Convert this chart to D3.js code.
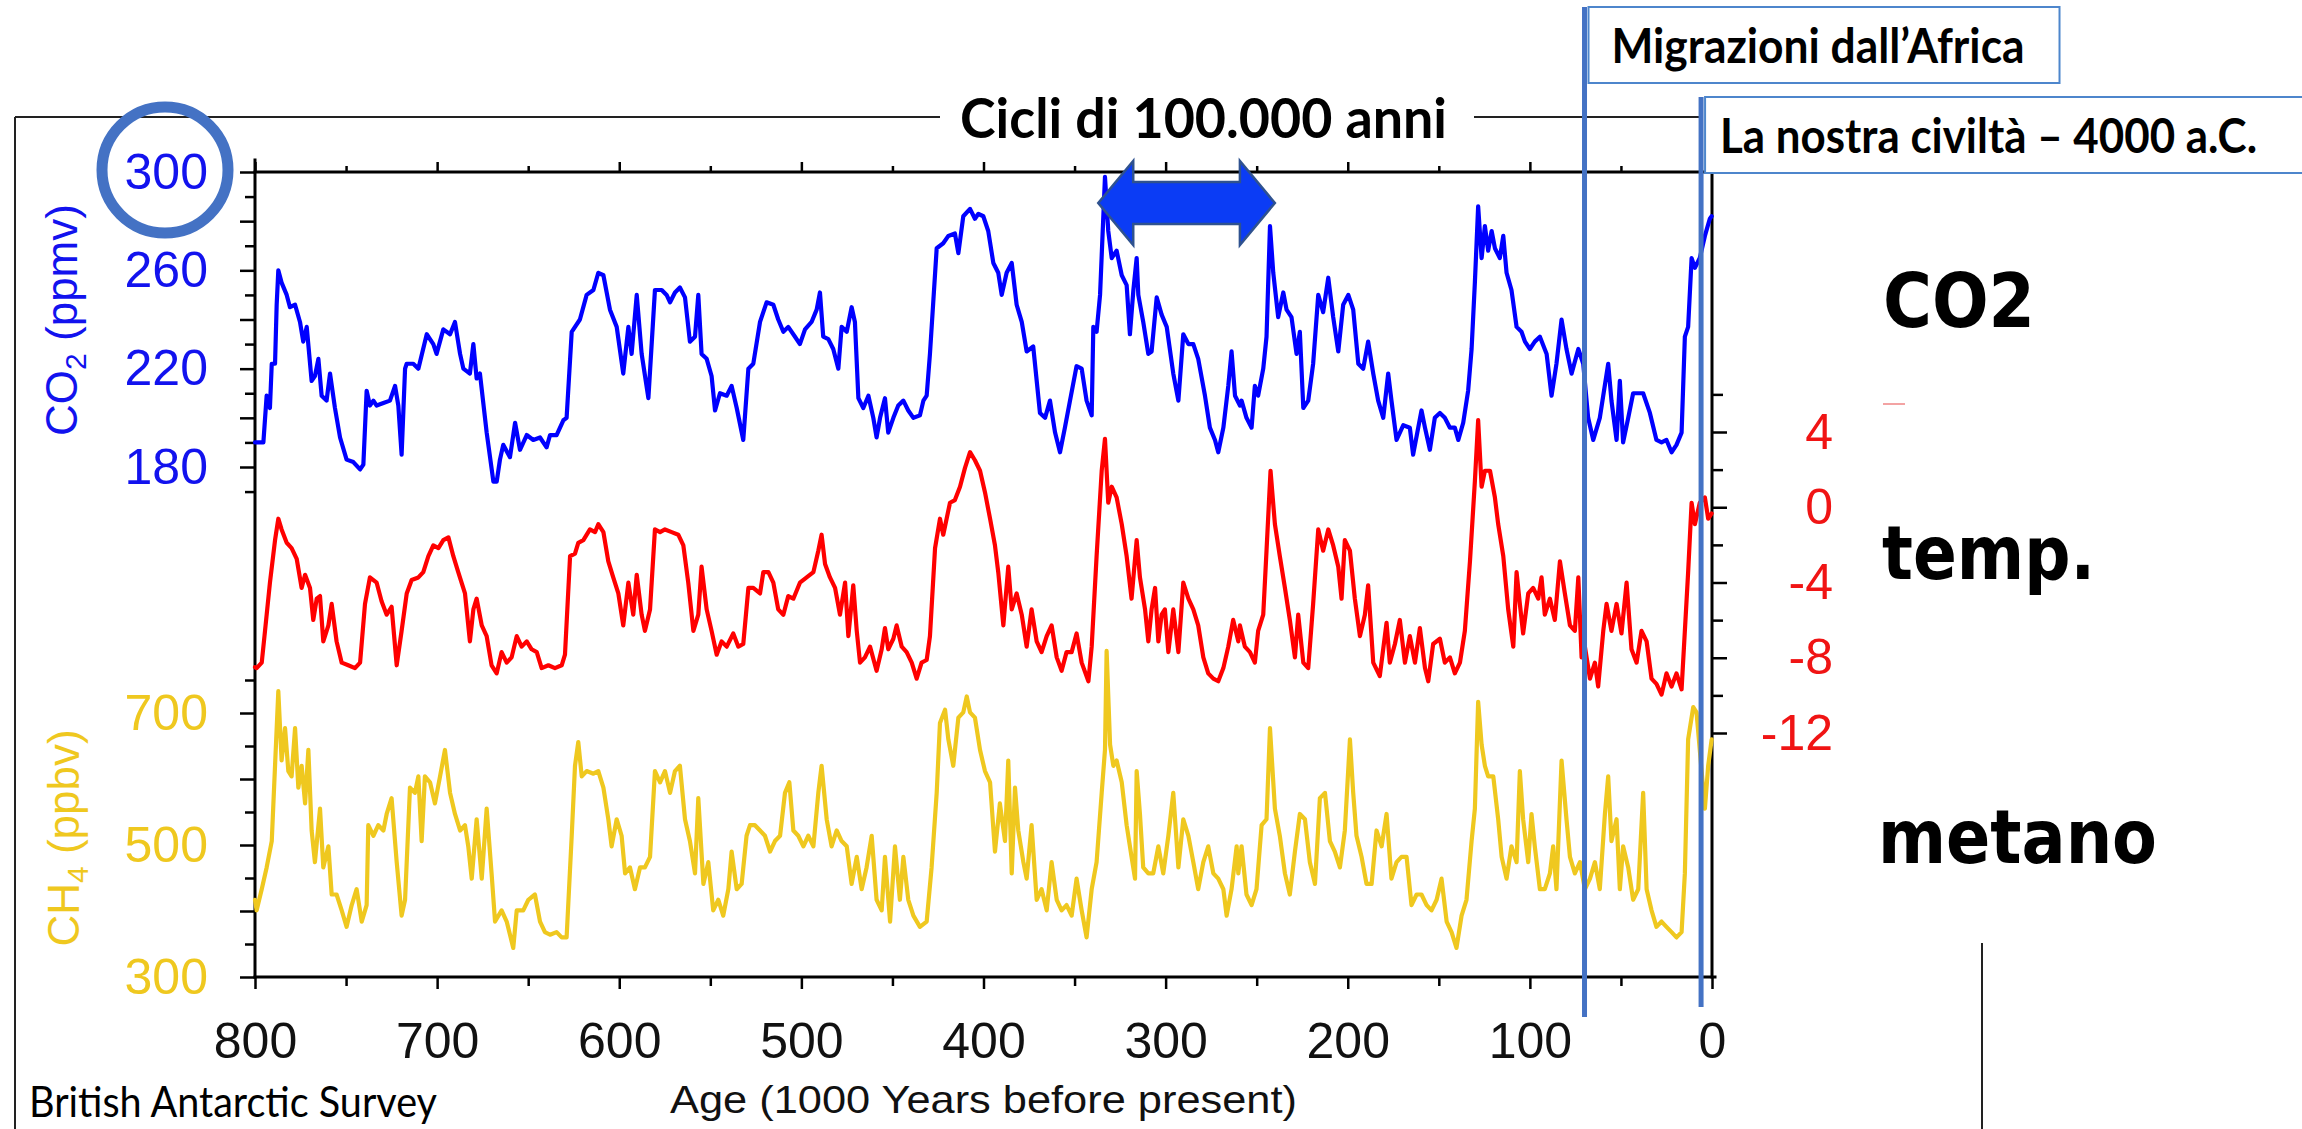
<!DOCTYPE html>
<html>
<head>
<meta charset="utf-8">
<script src="https://cdn.jsdelivr.net/npm/d3@7"></script>
<style>
  html, body { margin: 0; padding: 0; background: #fff; }
  svg { display: block; }
</style>
</head>
<body>
<svg id="chart" width="2302" height="1129"></svg>
<script>
// ---- Antarctic ice-core records, age in thousands of years before present ----
const co2Series = [
  [800,190],[799.1,190],[795.4,190],[793.6,209],[791.8,204],[790.8,222],[789.0,222],[788.1,246],[787.2,260],[785.4,255],
  [782.6,250],[780.8,245],[778.0,246],[775.3,239],[773.5,231],[771.6,237],[768.9,215],[767.1,217],[765.2,224],[763.4,209],
  [760.7,207],[758.8,218],[756.1,204],[753.3,192],[749.7,183],[746.0,182],[742.3,179],[740.5,181],[738.7,211],[736.9,205],
  [735.0,207],[733.2,205],[729.5,206],[725.9,207],[723.1,213],[721.3,205],[719.5,185],[717.6,220],[716.7,222],[713.1,222],
  [710.3,220],[705.7,234],[702.1,230],[700.3,226],[696.6,236],[692.9,234],[690.2,239],[687.4,226],[685.6,220],[682.0,218],
  [680.1,230],[678.3,216],[676.5,218],[672.8,194],[669.1,174],[667.3,174],[665.5,183],[663.7,189],[660.0,184],[657.2,198],
  [654.5,187],[650.8,193],[647.2,191],[643.5,192],[639.9,188],[638.0,193],[634.4,193],[630.7,199],[628.9,200],[626.1,235],
  [621.6,240],[617.9,250],[614.2,252],[611.5,259],[608.7,258],[605.1,244],[601.4,237],[597.8,218],[595.0,237],[593.2,226],
  [590.4,250],[587.7,226],[584.0,208],[580.4,252],[576.7,252],[574.0,250],[572.1,247],[569.4,251],[566.7,253],[563.9,249],
  [561.2,231],[558.4,233],[556.6,250],[554.8,226],[552.0,224],[549.3,217],[547.4,203],[544.7,210],[541.0,209],[538.3,213],
  [535.5,204],[531.9,191],[529.1,220],[526.4,222],[522.7,239],[519.1,247],[515.4,246],[512.7,240],[509.9,235],[507.2,237],
  [503.5,233],[500.8,230],[498.0,236],[494.4,239],[491.6,244],[489.8,251],[488.0,233],[485.2,232],[482.5,228],[479.7,220],
  [477.9,237],[475.1,235],[472.4,245],[470.6,239],[468.7,208],[466.0,204],[463.2,209],[460.5,200],[458.7,192],[456.8,200],
  [454.1,208],[452.3,194],[449.5,200],[446.8,205],[444.0,207],[441.3,203],[438.5,200],[434.9,201],[433.0,207],[431.2,209],
  [429.4,226],[425.7,269],[422.1,271],[419.3,274],[415.7,275],[413.8,267],[411.1,282],[407.4,285],[404.7,281],[402.8,283],
  [400.1,282],[397.4,276],[394.6,263],[391.9,259],[390.0,250],[387.3,259],[384.5,263],[381.8,246],[379.0,239],[376.3,227],
  [372.7,229],[369.0,202],[366.2,200],[363.5,207],[360.7,194],[358.0,186],[355.3,196],[352.5,207],[348.9,221],[346.1,220],
  [343.4,207],[340.6,201],[339.7,237],[337.9,235],[336.0,250],[333.3,298],[331.5,276],[329.6,265],[326.9,268],[324.1,258],
  [321.4,254],[319.6,234],[317.7,252],[315.9,265],[315.0,250],[312.3,239],[309.5,226],[307.7,227],[304.9,249],[302.2,242],
  [299.4,237],[295.8,218],[293.0,207],[290.3,234],[287.5,230],[284.8,230],[282.1,224],[278.4,209],[275.7,196],[272.9,191],
  [271.1,186],[268.3,196],[265.6,213],[263.8,227],[261.9,209],[259.2,205],[258.3,207],[255.6,200],[252.8,196],[251.0,213],
  [249.2,209],[246.4,220],[244.6,233],[242.7,278],[240.9,259],[238.2,241],[235.4,251],[233.6,244],[230.9,241],[228.1,226],
  [226.3,235],[224.4,204],[221.7,207],[219.0,222],[216.2,250],[213.5,243],[210.7,257],[208.0,241],[205.2,227],[202.5,246],
  [199.7,250],[197.0,244],[194.2,222],[191.5,220],[188.8,231],[186.0,218],[183.3,207],[180.5,200],[177.8,218],[176.0,207],
  [173.2,191],[169.5,197],[165.9,196],[164.1,185],[161.3,196],[159.5,203],[157.6,196],[154.9,187],[152.2,200],[149.4,202],
  [146.7,200],[143.9,196],[141.2,196],[139.3,191],[136.6,198],[133.9,211],[132.0,228],[130.2,255],[128.4,286],[126.5,265],
  [124.7,278],[122.9,268],[121.0,276],[119.2,269],[116.5,265],[114.6,274],[112.8,259],[110.1,252],[107.3,237],[104.6,235],
  [102.7,231],[100.0,228],[97.3,231],[94.5,233],[90.8,226],[88.1,209],[85.4,222],[82.6,240],[79.9,228],[77.1,218],
  [73.4,228],[70.7,222],[68.0,200],[65.2,191],[61.6,200],[57.0,222],[55.2,207],[52.4,191],[50.6,215],[48.8,190],
  [46.0,200],[43.3,210],[37.8,210],[34.1,202],[30.5,191],[27.7,190],[25.0,191],[22.2,186],[19.5,189],[16.7,194],
  [14.9,233],[13.1,237],[11.2,265],[9.4,261],[6.7,265],[3.9,274],[1.2,281],[0.2,282]
];

const temperatureSeries = [
  [800,-8.5],[799.1,-8.55],[796.3,-8.26],[794.5,-6.57],[791.8,-4.01],[789.0,-1.75],[787.2,-0.61],[785.4,-1.18],[782.6,-1.89],[779.9,-2.17],
  [777.1,-2.74],[774.4,-4.29],[772.5,-3.59],[769.8,-4.29],[768.0,-5.99],[766.1,-4.86],[764.3,-4.72],[762.5,-7.13],[759.7,-6.28],[757.9,-5.14],
  [755.2,-7.13],[752.4,-8.26],[748.8,-8.40],[745.1,-8.55],[742.3,-8.26],[739.6,-5.14],[736.9,-3.73],[733.2,-4.01],[730.5,-5.0],[727.7,-5.71],
  [725.0,-5.29],[722.2,-8.40],[719.5,-6.57],[716.7,-4.58],[714.0,-3.87],[710.3,-3.73],[707.6,-3.45],[704.8,-2.60],[702.1,-2.03],[699.3,-2.17],
  [696.6,-1.75],[693.8,-1.60],[691.1,-2.60],[688.4,-3.45],[684.7,-4.58],[682.0,-7.13],[680.1,-5.43],[678.3,-4.86],[675.5,-6.28],[672.8,-6.85],
  [670.1,-8.40],[667.3,-8.83],[664.6,-7.70],[661.8,-8.26],[659.1,-7.98],[656.3,-6.85],[653.6,-7.41],[650.8,-7.13],[648.1,-7.55],[645.3,-7.70],
  [642.6,-8.55],[638.9,-8.40],[635.3,-8.55],[631.6,-8.40],[629.8,-7.84],[627.0,-2.60],[624.3,-2.46],[622.5,-1.89],[619.7,-1.75],[616.1,-1.18],
  [613.3,-1.32],[611.5,-0.90],[608.7,-1.32],[606.0,-2.88],[603.3,-3.73],[600.5,-4.58],[597.8,-6.28],[595.0,-4.01],[592.3,-5.71],[590.4,-3.59],
  [587.7,-5.71],[585.9,-6.57],[583.1,-5.43],[580.4,-1.18],[577.6,-1.32],[574.9,-1.18],[571.2,-1.32],[567.6,-1.46],[564.8,-2.03],[562.1,-4.01],
  [559.3,-6.57],[556.6,-5.71],[554.8,-3.16],[552.0,-5.43],[549.3,-6.57],[546.5,-7.84],[543.8,-7.13],[541.0,-7.41],[537.4,-6.71],[534.6,-7.41],
  [531.9,-7.27],[529.1,-4.29],[526.4,-4.29],[522.7,-4.58],[520.9,-3.45],[518.1,-3.45],[515.4,-4.01],[512.7,-5.43],[509.9,-5.71],[507.2,-4.72],
  [504.4,-4.86],[500.8,-4.01],[497.1,-3.73],[493.4,-3.45],[490.7,-2.31],[488.9,-1.46],[487.0,-3.02],[484.3,-3.73],[481.5,-4.29],[478.8,-5.71],
  [476.0,-4.01],[474.2,-6.85],[471.5,-4.15],[469.6,-6.57],[467.8,-8.26],[465.1,-7.98],[462.3,-7.41],[458.7,-8.69],[455.9,-7.55],[454.1,-6.42],
  [452.3,-7.55],[449.5,-6.99],[447.7,-6.28],[444.9,-7.41],[442.2,-7.70],[439.4,-8.26],[436.7,-9.11],[434.0,-8.26],[431.2,-8.12],[429.4,-6.85],
  [426.6,-2.17],[423.9,-0.61],[422.1,-1.46],[418.4,0.24],[415.7,0.38],[412.9,1.09],[410.2,2.08],[407.4,2.93],[404.7,2.50],[401.9,1.94],
  [399.2,0.80],[396.4,-0.61],[393.7,-2.03],[391.9,-3.45],[389.1,-6.28],[386.4,-3.16],[384.5,-5.43],[381.8,-4.58],[379.0,-5.71],[376.3,-7.41],
  [373.6,-5.43],[370.8,-7.13],[368.1,-7.70],[365.3,-6.85],[362.6,-6.28],[359.8,-7.98],[357.1,-8.69],[354.4,-7.70],[351.6,-7.70],[348.9,-6.71],
  [346.1,-8.26],[342.4,-9.25],[340.6,-7.41],[337.9,-2.60],[335.1,1.94],[333.3,3.64],[331.5,0.24],[329.6,1.09],[326.9,0.52],[324.1,-0.90],
  [321.4,-2.60],[318.7,-4.86],[315.9,-1.75],[314.1,-3.73],[311.3,-5.43],[309.5,-7.13],[307.7,-5.43],[305.8,-4.29],[304.0,-7.13],[302.2,-5.71],
  [300.4,-5.43],[298.5,-7.70],[295.8,-5.43],[293.0,-7.70],[290.3,-4.01],[287.5,-4.86],[284.8,-5.43],[282.1,-6.28],[279.3,-7.98],[276.6,-8.83],
  [273.8,-9.11],[271.1,-9.25],[268.3,-8.55],[265.6,-7.41],[262.9,-5.99],[260.1,-7.13],[259.2,-6.28],[256.5,-7.41],[253.7,-7.70],[251.0,-8.26],
  [249.2,-6.57],[246.4,-5.71],[244.6,-2.31],[242.4,1.94],[240.0,-0.90],[237.3,-2.60],[234.5,-4.29],[231.8,-5.99],[229.0,-7.98],[227.2,-5.71],
  [224.4,-8.26],[221.7,-8.55],[219.0,-5.14],[216.2,-1.18],[213.5,-2.31],[210.7,-1.18],[208.0,-2.03],[205.2,-3.16],[203.4,-4.86],[201.6,-1.75],
  [198.8,-2.31],[196.1,-4.86],[193.3,-6.85],[190.6,-5.71],[188.8,-4.15],[186.0,-8.26],[182.4,-8.97],[178.7,-6.14],[176.9,-8.26],[174.1,-7.27],
  [171.4,-5.99],[168.6,-8.26],[165.9,-6.85],[163.1,-8.26],[160.4,-6.42],[157.6,-8.55],[155.8,-9.25],[153.1,-7.27],[149.4,-6.99],[146.7,-8.26],
  [143.9,-7.98],[141.2,-8.83],[138.4,-8.26],[135.7,-6.57],[132.9,-2.88],[130.2,1.37],[128.4,4.63],[126.5,1.09],[124.7,1.94],[121.9,1.94],
  [119.2,0.52],[117.4,-0.90],[114.6,-2.60],[111.9,-5.43],[109.1,-7.41],[107.3,-3.45],[105.5,-5.14],[103.7,-6.71],[100.9,-4.58],[98.2,-4.29],
  [95.4,-4.86],[93.6,-3.73],[91.8,-5.71],[89.0,-4.86],[86.3,-5.99],[83.5,-2.88],[80.8,-4.58],[78.0,-6.28],[75.3,-6.57],[73.4,-3.73],
  [71.6,-7.98],[69.8,-7.41],[67.0,-9.11],[64.3,-8.26],[62.5,-9.53],[59.7,-6.57],[57.9,-5.14],[55.2,-6.57],[52.4,-5.14],[49.7,-6.71],
  [46.9,-4.01],[44.2,-7.55],[41.4,-8.26],[38.7,-6.57],[35.9,-7.13],[33.2,-9.11],[30.5,-9.39],[27.7,-9.96],[25.0,-8.83],[22.2,-9.53],
  [19.5,-8.83],[16.7,-9.68],[14.9,-6.57],[13.1,-3.45],[11.2,0.24],[9.4,-0.90],[6.7,0.24],[3.9,0.52],[2.1,-0.61],[0.2,-0.33]
];

const methaneSeries = [
  [800,417],[799.1,401],[796.3,433],[793.6,466],[790.8,506],[789.0,620],[787.2,733],[785.4,628],[783.5,677],[781.7,612],
  [779.9,604],[778.0,677],[776.2,587],[774.4,620],[772.5,563],[770.7,644],[768.9,522],[767.1,474],[764.3,555],[762.5,466],
  [759.7,498],[757.9,425],[755.2,425],[752.4,401],[749.7,376],[746.9,409],[744.2,433],[741.4,384],[738.7,409],[737.8,530],
  [735.0,514],[732.3,530],[729.5,522],[727.7,547],[725.0,571],[722.2,474],[719.5,393],[717.6,417],[714.9,587],[712.2,579],
  [710.3,604],[708.5,506],[706.7,604],[703.9,595],[701.2,563],[698.4,604],[695.7,644],[692.9,579],[690.2,547],[687.4,522],
  [684.7,530],[682.9,498],[681.0,449],[678.3,539],[675.5,449],[672.8,555],[670.1,457],[668.2,384],[664.6,401],[661.8,384],
  [658.2,344],[656.3,401],[652.7,401],[649.9,417],[646.3,425],[643.5,384],[640.8,368],[638.0,364],[634.4,368],[631.6,360],
  [628.9,360],[626.1,514],[624.3,620],[622.5,656],[620.6,604],[617.9,612],[614.2,608],[611.5,612],[608.7,587],[606.0,539],
  [604.2,498],[601.4,539],[598.7,514],[596.8,457],[594.1,466],[591.4,433],[588.6,466],[585.9,466],[583.1,482],[580.4,612],
  [577.6,595],[574.9,612],[572.1,579],[569.4,612],[566.7,620],[563.9,539],[561.2,506],[558.4,457],[556.6,571],[553.8,441],
  [551.1,474],[548.4,401],[545.6,417],[542.9,393],[540.1,433],[538.3,490],[535.5,433],[532.8,441],[530.1,514],[528.2,530],
  [525.5,530],[522.7,522],[520.0,514],[517.2,490],[514.5,506],[511.7,514],[509.0,579],[506.6,595],[504.4,522],[501.7,514],
  [498.9,498],[496.2,514],[493.4,498],[490.7,579],[488.9,620],[486.1,539],[483.4,498],[480.6,522],[477.9,506],[475.1,498],
  [472.4,441],[469.6,482],[466.9,433],[464.2,466],[461.4,514],[458.7,417],[455.9,401],[454.1,482],[451.3,384],[448.6,498],
  [445.9,417],[444.0,482],[441.3,417],[438.5,393],[434.9,376],[431.2,384],[428.5,466],[425.7,579],[423.9,685],[421.1,705],
  [419.3,660],[416.6,620],[413.8,693],[411.1,701],[409.2,725],[407.4,701],[404.7,693],[401.9,644],[399.2,612],[396.4,595],
  [393.7,490],[391.0,563],[388.2,506],[386.4,628],[384.5,457],[382.7,587],[380.9,522],[378.1,474],[376.3,449],[373.6,530],
  [370.8,417],[368.1,433],[365.3,401],[362.6,474],[359.8,417],[357.1,401],[354.4,409],[351.6,393],[348.9,449],[346.1,401],
  [343.4,360],[340.6,433],[337.9,474],[335.1,579],[333.3,644],[332.4,794],[330.5,652],[328.7,620],[326.9,628],[324.1,595],
  [321.4,530],[318.7,482],[316.8,449],[315.9,612],[314.1,547],[312.3,466],[309.5,457],[306.8,457],[304.0,498],[301.3,457],
  [298.5,514],[295.8,579],[293.0,466],[290.3,539],[287.5,514],[284.8,474],[282.1,433],[279.3,474],[276.6,498],[273.8,457],
  [271.1,449],[268.3,433],[266.5,393],[263.8,433],[261.0,498],[260.1,457],[258.3,498],[255.6,425],[252.8,409],[250.1,433],
  [247.3,530],[244.6,539],[242.7,677],[240.0,555],[237.3,514],[234.5,457],[231.8,425],[229.0,490],[226.3,547],[223.5,539],
  [220.8,474],[218.0,441],[215.3,571],[212.5,579],[209.8,506],[207.1,490],[204.3,466],[201.6,522],[198.8,660],[197.0,579],
  [195.2,514],[192.4,482],[189.7,441],[186.9,441],[184.2,522],[181.4,498],[178.7,547],[176.0,449],[173.2,474],[170.5,482],
  [167.7,482],[165.0,409],[162.2,425],[159.5,425],[156.7,409],[154.0,401],[151.2,417],[148.5,449],[145.7,384],[143.0,368],
  [140.3,344],[137.5,393],[134.8,417],[132.0,506],[130.2,555],[128.4,717],[126.5,652],[124.7,620],[122.9,604],[120.1,604],
  [117.4,539],[115.5,482],[112.8,449],[110.1,498],[107.3,474],[105.5,612],[103.7,539],[100.9,474],[99.1,547],[97.3,498],
  [94.5,433],[91.8,433],[89.0,457],[87.2,498],[85.4,433],[82.6,628],[79.9,539],[78.0,482],[75.3,457],[72.5,474],
  [69.8,433],[67.0,449],[64.3,474],[61.6,433],[58.8,547],[57.0,604],[55.2,506],[52.4,539],[50.6,433],[48.8,498],
  [46.0,466],[43.3,417],[40.5,433],[37.8,579],[35.9,433],[33.2,401],[30.5,376],[27.7,384],[25.0,376],[22.2,368],
  [19.5,360],[16.7,368],[14.9,457],[13.1,660],[10.3,709],[8.5,701],[5.7,612],[3.9,555],[2.1,620],[0.2,660]
];

// ---- tick values ----
const ageMajorTicks = [800, 700, 600, 500, 400, 300, 200, 100, 0];
const ageMinorTicks = [750, 650, 550, 450, 350, 250, 150, 50];
const co2Labels = [180, 220, 260, 300];
const co2Major = [180, 200, 220, 240, 260, 280, 300];
const co2Minor = [170, 190, 210, 230, 250, 270, 290];
const tempLabels = [4, 0, -4, -8, -12];
const tempMinor = [6, 2, -2, -6, -10];
const ch4Labels = [300, 500, 700];
const ch4Major = [300, 400, 500, 600, 700];
const ch4Minor = [350, 450, 550, 650, 750];

// ---- annotations ----
const cycleSpan = [337, 240];            // one glacial cycle, kyr BP
const events = [
  { age: 70, label: "Migrazioni dall\u2019Africa" },
  { age: 6,  label: "La nostra civilt\u00e0 \u2013 4000 a.C." }
];

const BLUE = "#0000ff", RED = "#ff0000", GOLD = "#efc81f";
const NOTE_BLUE = "#4472c4";
const AXIS_FONT = "'Liberation Sans', Arial, sans-serif";
const SLIDE_FONT = "Lato, 'Open Sans', sans-serif";

const svg = d3.select("#chart");
const box = { left: 255, right: 1712, top: 172, bottom: 977 };

const x = d3.scaleLinear().domain([800, 0]).range([box.left, box.right]);
const yCO2 = d3.scaleLinear().domain([180, 300]).range([467, 172]);
const yTemp = d3.scaleLinear().domain([-12, 4]).range([733, 432]);
const yCH4 = d3.scaleLinear().domain([300, 700]).range([977, 713]);

// ---- slide frame ----
const frame = svg.append("g").attr("stroke", "#222").attr("stroke-width", 2);
frame.append("line").attr("x1", 15).attr("y1", 117).attr("x2", 15).attr("y2", 1129);
frame.append("line").attr("x1", 15).attr("y1", 117).attr("x2", 940).attr("y2", 117);
frame.append("line").attr("x1", 1474).attr("y1", 117).attr("x2", 1702).attr("y2", 117);
frame.append("line").attr("x1", 1982).attr("y1", 943).attr("x2", 1982).attr("y2", 1129);
svg.append("line").attr("x1", 1883).attr("y1", 404).attr("x2", 1905).attr("y2", 404)
  .attr("stroke", "#f3a3a3").attr("stroke-width", 2);

// ---- axes ----
function tidy(g, width) {
  g.select(".domain").remove();
  g.selectAll(".tick line").attr("stroke", "#000").attr("stroke-width", width || 2.5);
  return g;
}
function labelStyle(g, size, color) {
  g.attr("font-family", AXIS_FONT).attr("font-size", size);
  g.selectAll("text").attr("fill", color);
}

// bottom age axis
const xAxisMinor = svg.append("g").attr("transform", `translate(0,${box.bottom})`)
  .call(d3.axisBottom(x).tickValues(ageMinorTicks).tickSize(9).tickFormat(""));
tidy(xAxisMinor);
const xAxis = svg.append("g").attr("transform", `translate(0,${box.bottom})`)
  .call(d3.axisBottom(x).tickValues(ageMajorTicks).tickSize(12).tickPadding(33).tickFormat(d3.format("d")));
tidy(xAxis);
labelStyle(xAxis, 50, "#111");

// top mirrored ticks
svg.append("g").attr("transform", `translate(0,${box.top})`)
  .call(d3.axisTop(x).tickValues(ageMajorTicks).tickSize(10).tickFormat("")).call(tidy);
svg.append("g").attr("transform", `translate(0,${box.top})`)
  .call(d3.axisTop(x).tickValues(ageMinorTicks).tickSize(6).tickFormat("")).call(tidy);

// CO2 axis (left, top section)
svg.append("g").attr("transform", `translate(${box.left},0)`)
  .call(d3.axisLeft(yCO2).tickValues(co2Minor).tickSize(10).tickFormat("")).call(tidy);
const co2Axis = svg.append("g").attr("transform", `translate(${box.left},0)`)
  .call(d3.axisLeft(yCO2).tickValues(co2Major).tickSize(15).tickPadding(32)
    .tickFormat(d => co2Labels.includes(d) ? d : ""));
tidy(co2Axis);
labelStyle(co2Axis, 50, "#1212ee");

// CH4 axis (left, bottom section)
svg.append("g").attr("transform", `translate(${box.left},0)`)
  .call(d3.axisLeft(yCH4).tickValues(ch4Minor).tickSize(10).tickFormat("")).call(tidy);
const ch4Axis = svg.append("g").attr("transform", `translate(${box.left},0)`)
  .call(d3.axisLeft(yCH4).tickValues(ch4Major).tickSize(15).tickPadding(32)
    .tickFormat(d => ch4Labels.includes(d) ? d : ""));
tidy(ch4Axis);
labelStyle(ch4Axis, 50, GOLD);

// temperature axis (right)
svg.append("g").attr("transform", `translate(${box.right},0)`)
  .call(d3.axisRight(yTemp).tickValues(tempMinor).tickSize(11).tickFormat("")).call(tidy);
const tAxis = svg.append("g").attr("transform", `translate(${box.right},0)`)
  .call(d3.axisRight(yTemp).tickValues(tempLabels).tickSize(15).tickFormat(d => d < 0 ? "-" + Math.abs(d) : d));
tidy(tAxis);
labelStyle(tAxis, 50, "#f01414");
tAxis.selectAll("text").attr("text-anchor", "end").attr("x", 121);

// plot spines
const spines = svg.append("g").attr("stroke", "#000").attr("stroke-width", 3).attr("stroke-linecap", "square");
spines.append("line").attr("x1", box.left).attr("y1", box.top - 12).attr("x2", box.left).attr("y2", box.bottom);
spines.append("line").attr("x1", box.left).attr("y1", box.top).attr("x2", box.right + 3).attr("y2", box.top);
spines.append("line").attr("x1", box.left).attr("y1", box.bottom).attr("x2", box.right + 3).attr("y2", box.bottom);
spines.append("line").attr("x1", box.right).attr("y1", box.top).attr("x2", box.right).attr("y2", box.bottom);

// ---- series ----
function drawSeries(data, yScale, color, width) {
  svg.append("path").datum(data)
    .attr("fill", "none").attr("stroke", color).attr("stroke-width", width)
    .attr("stroke-linejoin", "round").attr("stroke-linecap", "round")
    .attr("d", d3.line().x(d => x(d[0])).y(d => yScale(d[1])));
}
drawSeries(methaneSeries, yCH4, GOLD, 4.2);
drawSeries(temperatureSeries, yTemp, RED, 4.2);
drawSeries(co2Series, yCO2, BLUE, 4.2);

// ---- axis titles ----
const co2Title = svg.append("text").attr("transform", "translate(77,320) rotate(-90)")
  .attr("text-anchor", "middle").attr("font-family", AXIS_FONT).attr("font-size", 44).attr("fill", "#1212ee");
co2Title.append("tspan").text("CO");
co2Title.append("tspan").attr("font-size", 30).attr("dy", 9).text("2");
co2Title.append("tspan").attr("dy", -9).text(" (ppmv)");

const ch4Title = svg.append("text").attr("transform", "translate(79,838) rotate(-90)")
  .attr("text-anchor", "middle").attr("font-family", AXIS_FONT).attr("font-size", 44).attr("fill", GOLD);
ch4Title.append("tspan").text("CH");
ch4Title.append("tspan").attr("font-size", 30).attr("dy", 9).text("4");
ch4Title.append("tspan").attr("dy", -9).text(" (ppbv)");

svg.append("text").attr("x", (box.left + box.right) / 2).attr("y", 1113)
  .attr("text-anchor", "middle").attr("font-family", AXIS_FONT).attr("font-size", 39).attr("fill", "#111")
  .attr("textLength", 627).attr("lengthAdjust", "spacingAndGlyphs")
  .text("Age (1000 Years before present)");

svg.append("text").attr("x", 29).attr("y", 1117)
  .attr("font-family", SLIDE_FONT).attr("font-size", 43).attr("fill", "#000")
  .attr("textLength", 408).attr("lengthAdjust", "spacingAndGlyphs")
  .text("British Antarctic Survey");

// ---- highlight on the 300 ppmv label ----
svg.append("circle").attr("cx", 165).attr("cy", yCO2(300) - 2).attr("r", 63)
  .attr("fill", "none").attr("stroke", NOTE_BLUE).attr("stroke-width", 11);

// ---- glacial cycle annotation ----
svg.append("text").attr("x", 960).attr("y", 138)
  .attr("font-family", SLIDE_FONT).attr("font-weight", 700).attr("font-size", 56).attr("fill", "#000")
  .attr("textLength", 487).attr("lengthAdjust", "spacingAndGlyphs")
  .text("Cicli di 100.000 anni");

const ax0 = x(cycleSpan[0]), ax1 = x(cycleSpan[1]);
const ay = 203, head = 35, headH = 42, shaftH = 21;
svg.append("polygon")
  .attr("points", [
    [ax0, ay], [ax0 + head, ay - headH], [ax0 + head, ay - shaftH], [ax1 - head, ay - shaftH],
    [ax1 - head, ay - headH], [ax1, ay], [ax1 - head, ay + headH], [ax1 - head, ay + shaftH],
    [ax0 + head, ay + shaftH], [ax0 + head, ay + headH]
  ].map(p => p.join(",")).join(" "))
  .attr("fill", "#0b3cf5").attr("stroke", "#2f528f").attr("stroke-width", 2.5);

// ---- human history markers ----
const markerTops = [7, 97];
const markerBottoms = [1017, 1007];
const boxWidths = [471, 598];
events.forEach((ev, i) => {
  const ex = x(ev.age);
  svg.append("line").attr("x1", ex).attr("x2", ex)
    .attr("y1", markerTops[i]).attr("y2", markerBottoms[i])
    .attr("stroke", NOTE_BLUE).attr("stroke-width", 5);
  svg.append("rect").attr("x", ex + 4).attr("y", markerTops[i]).attr("width", boxWidths[i]).attr("height", 76)
    .attr("fill", "#fff").attr("stroke", "#4d86cc").attr("stroke-width", 2);
});
svg.append("text").attr("x", x(events[0].age) + 27).attr("y", 63)
  .attr("font-family", SLIDE_FONT).attr("font-weight", 700).attr("font-size", 48).attr("fill", "#000")
  .attr("textLength", 413).attr("lengthAdjust", "spacingAndGlyphs").text(events[0].label);
svg.append("text").attr("x", x(events[1].age) + 19).attr("y", 153)
  .attr("font-family", SLIDE_FONT).attr("font-weight", 700).attr("font-size", 47).attr("fill", "#000")
  .attr("textLength", 537).attr("lengthAdjust", "spacingAndGlyphs").text(events[1].label);

// ---- series names ----
const NAME_FONT = "'DejaVu Sans', Verdana, sans-serif";
[["CO2", 1883, 327, 152], ["temp.", 1882, 579, 213], ["metano", 1878, 863, 279]].forEach(([t, tx, ty, len]) => {
  svg.append("text").attr("x", tx).attr("y", ty)
    .attr("font-family", NAME_FONT).attr("font-weight", 700).attr("font-size", 74).attr("fill", "#000")
    .attr("textLength", len).attr("lengthAdjust", "spacingAndGlyphs").text(t);
});
</script>
</body>
</html>
